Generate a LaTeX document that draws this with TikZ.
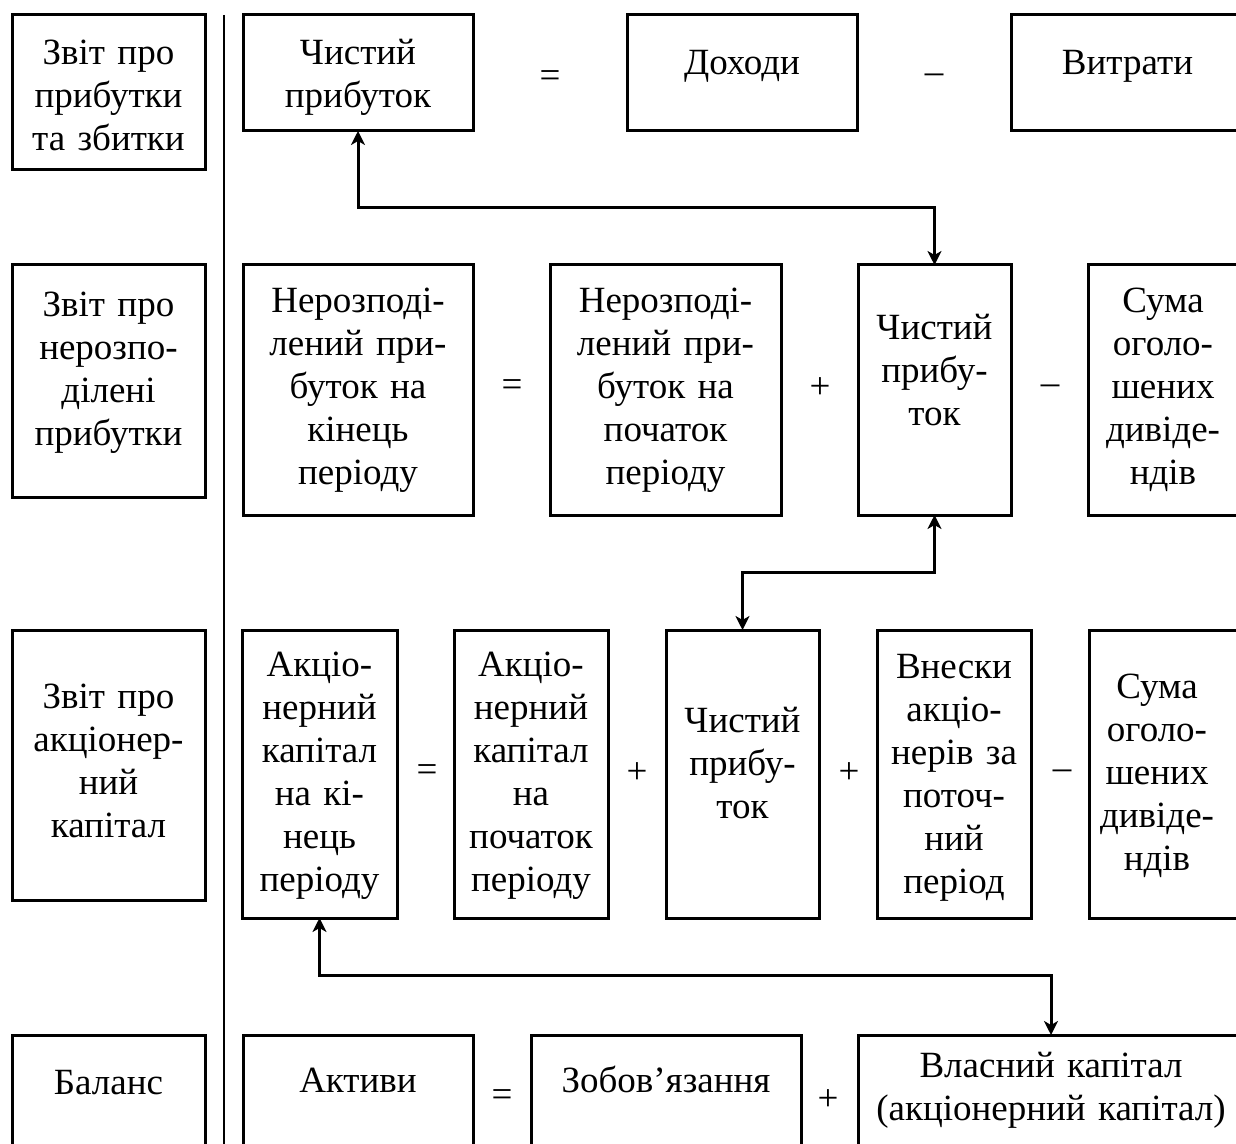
\documentclass[tikz,border=0pt]{standalone}
\usepackage{fontspec}
\setmainfont{Liberation Serif}
\usetikzlibrary{arrows.meta,fit}
\begin{document}
\begin{tikzpicture}[x=0.5pt,y=-0.5pt,
  box/.style={draw,line width=1.5pt,rectangle,inner sep=0pt,outer sep=0pt},
  txt/.style={anchor=base,align=center,inner sep=0pt,font=\fontsize{18.5pt}{21.5pt}\selectfont},
  op/.style={inner sep=0pt,font=\fontsize{18.5pt}{21.5pt}\selectfont},
  tip/.style={Stealth[length=7pt,width=7pt,inset=2pt]},
  conn/.style={line width=1.5pt,{Stealth[length=7pt,width=7pt,inset=2pt]}-{Stealth[length=7pt,width=7pt,inset=2pt]}}]
\useasboundingbox (0,0) rectangle (1236,1144);
\clip (0,0) rectangle (1236,1144);
\newcommand{\mkbox}[5]{\node[box,fit={(#2,#3) (#4,#5)}] (#1) {};}
% separator
\coordinate (sepT) at (224,15);
\coordinate (sepB) at (224,1150);
\draw[line width=1pt] (sepT) -- (sepB);
% row 1
\mkbox{lab1}{12}{15}{205}{170}
\mkbox{cp1}{243}{15}{473}{131}
\mkbox{doh}{627}{15}{857}{131}
\mkbox{vyt}{1011}{15}{1244}{131}
\node[txt,text width=90pt] (lab1t) at (108.5,65) {Звіт про\\прибутки\\та збитки};
\node[txt,text width=110pt] (cp1t) at (358,65) {Чистий\\прибуток};
\node[txt,text width=110pt] (doht) at (742,75) {Доходи};
\node[txt,text width=110pt] (vytt) at (1127.5,75) {Витрати};
\node[op] (o11) at (550,79) {=};
\node[op] (o12) at (934,79) {–};
% row 2
\mkbox{lab2}{12}{265}{205}{497}
\mkbox{nr1}{243}{265}{473}{515}
\mkbox{nr2}{550}{265}{781}{515}
\mkbox{cp2}{858}{265}{1011}{515}
\mkbox{sd2}{1088}{265}{1244}{515}
\node[txt,text width=90pt] (lab2t) at (108.5,317) {Звіт про\\нерозпо-\\ділені\\прибутки};
\node[txt,text width=110pt] (nr1t) at (358,313) {Нерозподі-\\лений при-\\буток на\\кінець\\періоду};
\node[txt,text width=110pt] (nr2t) at (665.5,313) {Нерозподі-\\лений при-\\буток на\\початок\\періоду};
\node[txt,text width=74pt] (cp2t) at (934.5,340) {Чистий\\прибу-\\ток};
\node[txt,text width=74pt] (sd2t) at (1163,313) {Сума\\оголо-\\шених\\диві\-де-\\ндів};
\node[op] (o21) at (512,388) {=};
\node[op] (o22) at (820,388) {+};
\node[op] (o23) at (1050,390) {–};
% row 3
\mkbox{lab3}{12}{630}{205}{900}
\mkbox{ak1}{242}{630}{397}{918}
\mkbox{ak2}{454}{630}{608}{918}
\mkbox{cp3}{666}{630}{819}{918}
\mkbox{vn}{877}{630}{1031}{918}
\mkbox{sd3}{1089}{630}{1244}{918}
\node[txt,text width=90pt] (lab3t) at (108.5,708) {Звіт про\\акціонер-\\ний\\капітал};
\node[txt,text width=75pt] (ak1t) at (319.5,676) {Акціо-\\нерний\\капітал\\на кі-\\нець\\періоду};
\node[txt,text width=75pt] (ak2t) at (531,676) {Акціо-\\нерний\\капітал\\на\\початок\\періоду};
\node[txt,text width=74pt] (cp3t) at (742.5,732) {Чистий\\прибу-\\ток};
\node[txt,text width=75pt] (vnt) at (954,678) {Внески\\акціо-\\нерів за\\поточ-\\ний\\період};
\node[txt,text width=75pt] (sd3t) at (1157,698) {Сума\\оголо-\\шених\\дивіде-\\ндів};
\node[op] (o31) at (427,773) {=};
\node[op] (o32) at (637,773) {+};
\node[op] (o33) at (849,773) {+};
\node[op] (o34) at (1062,775) {–};
% row 4
\mkbox{lab4}{12}{1035}{205}{1200}
\mkbox{akt}{243}{1035}{473}{1200}
\mkbox{zob}{531}{1035}{801}{1200}
\mkbox{vk}{858}{1035}{1244}{1200}
\node[txt,text width=90pt] (lab4t) at (108.5,1094) {Баланс};
\node[txt,text width=110pt] (aktt) at (358,1092) {Активи};
\node[txt,text width=130pt] (zobt) at (666,1092) {Зобов’язання};
\node[txt,text width=190pt] (vkt) at (1051,1077) {Власний капітал\\(акціонерний капітал)};
\node[op] (o41) at (502,1098) {=};
\node[op] (o42) at (828,1100) {+};
% connectors
\draw[conn] (cp1.south) -- ++(0,77) -| (cp2.north);
\draw[conn] (cp2.south) -- ++(0,57) -| (cp3.north);
\draw[conn] (ak1.south) -- ++(0,57) -| (vk.north);
\end{tikzpicture}
\end{document}
